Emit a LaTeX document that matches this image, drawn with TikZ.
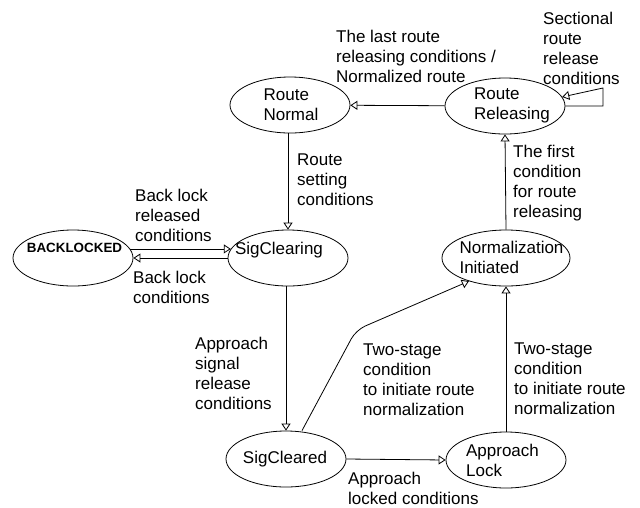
\documentclass[tikz,border=0pt]{standalone}
\usepackage{fontspec}
\setmainfont{Liberation Sans}
\usetikzlibrary{shapes.geometric,arrows.meta}
\begin{document}
\begin{tikzpicture}[x=1pt,y=-1pt,
  state/.style={draw, ellipse, line width=0.8pt, minimum width=120pt, minimum height=56pt, inner sep=0pt},
  stxt/.style={font=\fontsize{17}{20}\selectfont, align=left, inner sep=0pt},
  lbl/.style={font=\fontsize{17}{20}\selectfont, align=left, inner sep=0pt, anchor=west},
  flow/.style={draw, line width=0.8pt, -{Triangle[open,length=7pt,width=9pt]}}]
\useasboundingbox (0,0) rectangle (640,507);

% states
\node[state, label={[stxt,xshift=1pt]center:Route\\Normal}] (rn) at (290,105) {};
\node[state, label={[stxt,xshift=7pt,yshift=1pt]center:Route\\Releasing}] (rr) at (505,106) {};
\node[state, label={[stxt,xshift=-9pt,yshift=8pt]center:SigClearing}] (sc) at (288,258) {};
\node[state, label={[inner sep=0pt,font=\fontsize{13.4}{16}\selectfont\bfseries,xshift=1.5pt,yshift=10pt]center:BACKLOCKED}] (bl) at (73,258) {};
\node[state, label={[stxt,xshift=-1pt]center:SigCleared}] (sd) at (286,459) {};
\node[state, label={[stxt,xshift=-3.5pt]center:Approach\\Lock}] (al) at (506,460) {};
\node[state, minimum width=128pt, label={[stxt,xshift=5.5pt,yshift=0.5pt]center:Normalization\\Initiated}] (ni) at (506,258) {};

% transitions
\draw[flow] (rr) -- (rn);
\coordinate (loopa) at (603,106);
\coordinate (loopb) at (603,88);
\draw[flow] (rr.east) -- (loopa) -- (loopb) -- (rr.9);
\draw[flow] (rn.south -| sc.north) -- (sc.north);
\draw[flow] (bl.9) -- (sc.171);
\draw[flow] (sc.west) -- (bl.east);
\draw[flow] (sc.south -| sd.north) -- (sd.north);
\draw[flow] (sd.east) -- (al.west);
\draw[flow] (al.north) -- (ni.south);
\draw[flow] (ni.north) -- (rr.south);
\coordinate (bend) at (356,330);
\draw[flow, rounded corners=10pt] ([xshift=16pt]sd.north) -- (bend) -- (ni.212);

% transition labels
\node[lbl] (l1) at (336,56) {The last route\\releasing conditions /\\Normalized route};
\node[lbl] (l2) at (543,48) {Sectional\\route\\release\\conditions};
\node[lbl] (l3) at (297,180) {Route\\setting\\conditions};
\node[lbl] (l4) at (135,215) {Back lock\\released\\conditions};
\node[lbl] (l5) at (133,287) {Back lock\\conditions};
\node[lbl] (l6) at (513,183) {The first\\condition\\for route\\releasing};
\node[lbl] (l7) at (195,373) {Approach\\signal\\release\\conditions};
\node[lbl] (l8) at (363,380) {Two-stage\\condition\\to initiate route\\normalization};
\node[lbl] (l9) at (514,379) {Two-stage\\condition\\to initiate route\\normalization};
\node[lbl] (l10) at (348,488) {Approach\\locked conditions};
\end{tikzpicture}
\end{document}
